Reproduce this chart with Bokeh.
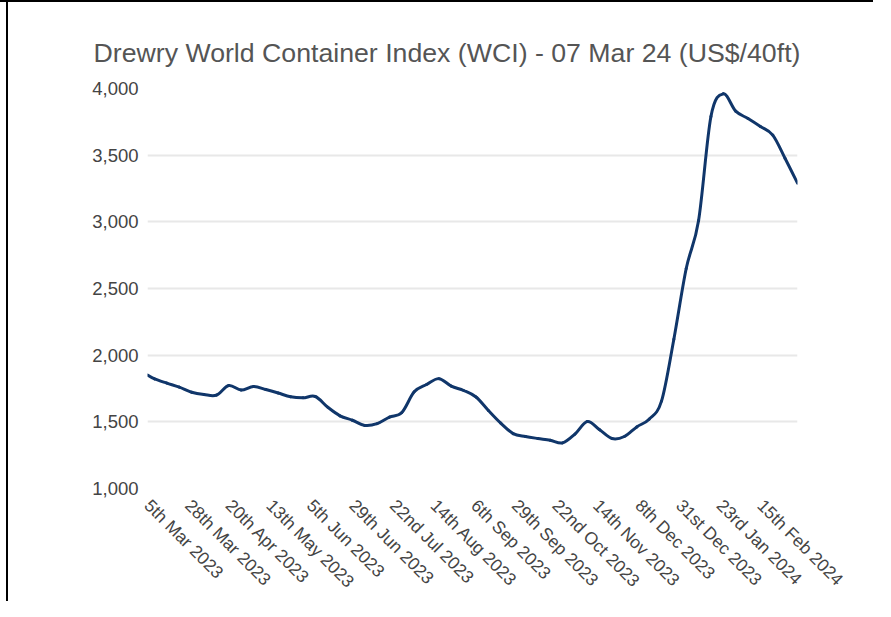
import math
import pandas as pd
from bokeh.plotting import figure
from bokeh.models import Range1d, FixedTicker, NumeralTickFormatter
from bokeh.embed import file_html
from bokeh.resources import INLINE

# ---- data ----
dates = [
    "2023-03-05", "2023-03-09", "2023-03-16", "2023-03-23", "2023-03-30",
    "2023-04-06", "2023-04-13", "2023-04-20", "2023-04-27", "2023-05-04",
    "2023-05-11", "2023-05-18", "2023-05-25", "2023-06-01", "2023-06-08",
    "2023-06-15", "2023-06-22", "2023-06-29", "2023-07-06", "2023-07-13",
    "2023-07-20", "2023-07-27", "2023-08-03", "2023-08-10", "2023-08-17",
    "2023-08-24", "2023-08-31", "2023-09-07", "2023-09-14", "2023-09-21",
    "2023-09-28", "2023-10-05", "2023-10-12", "2023-10-19", "2023-10-26",
    "2023-11-02", "2023-11-09", "2023-11-16", "2023-11-23", "2023-11-30",
    "2023-12-07", "2023-12-14", "2023-12-21", "2023-12-28", "2024-01-04",
    "2024-01-11", "2024-01-18", "2024-01-25", "2024-02-01", "2024-02-08",
    "2024-02-15", "2024-02-22", "2024-02-29", "2024-03-07",
]
wci = [
    1851, 1822, 1790, 1760, 1722,
    1705, 1700, 1772, 1738, 1765,
    1742, 1716, 1688, 1680, 1690,
    1610, 1545, 1512, 1473, 1486,
    1535, 1570, 1725, 1780, 1824,
    1768, 1735, 1686, 1585, 1490,
    1412, 1390, 1375, 1362, 1342,
    1408, 1502, 1440, 1375, 1390,
    1462, 1520, 1655, 2120, 2650,
    3010, 3790, 3960, 3830, 3775,
    3715, 3650, 3475, 3290,
]
tick_dates = [
    "2023-03-05", "2023-03-28", "2023-04-20", "2023-05-13", "2023-06-05",
    "2023-06-29", "2023-07-22", "2023-08-14", "2023-09-06", "2023-09-29",
    "2023-10-22", "2023-11-14", "2023-12-08", "2023-12-31", "2024-01-23",
    "2024-02-15",
]
tick_labels = [
    "5th Mar 2023", "28th Mar 2023", "20th Apr 2023", "13th May 2023",
    "5th Jun 2023", "29th Jun 2023", "22nd Jul 2023", "14th Aug 2023",
    "6th Sep 2023", "29th Sep 2023", "22nd Oct 2023", "14th Nov 2023",
    "8th Dec 2023", "31st Dec 2023", "23rd Jan 2024", "15th Feb 2024",
]
y_ticks = [1000, 1500, 2000, 2500, 3000, 3500, 4000]
title_text = "Drewry World Container Index (WCI) - 07 Mar 24 (US$/40ft)"

def ms(d):
    return pd.Timestamp(d).value / 1e6

xs = [ms(d) for d in dates]
ys = [float(v) for v in wci]
tick_ms = [ms(d) for d in tick_dates]

# smooth curve (Catmull-Rom as cubic Bezier segments)
n = len(xs)
x0, y0, x1, y1, cx0, cy0, cx1, cy1 = [], [], [], [], [], [], [], []
for i in range(n - 1):
    a = i - 1 if i > 0 else i
    b = i + 2 if i + 2 < n else i + 1
    x0.append(xs[i]); y0.append(ys[i])
    x1.append(xs[i + 1]); y1.append(ys[i + 1])
    cx0.append(xs[i] + (xs[i + 1] - xs[a]) / 6.0)
    cy0.append(ys[i] + (ys[i + 1] - ys[a]) / 6.0)
    cx1.append(xs[i + 1] - (xs[b] - xs[i]) / 6.0)
    cy1.append(ys[i + 1] - (ys[b] - ys[i]) / 6.0)

FONT = "Liberation Sans"

p = figure(
    width=873, height=601,
    x_axis_type="datetime",
    x_range=Range1d(ms("2023-03-05"), ms("2024-03-07")),
    y_range=Range1d(1000, 4000),
    output_backend="svg", toolbar_location=None,
    min_border_left=147, min_border_right=76,
    min_border_top=88, min_border_bottom=113,
)
# page frame lines like the screenshot's: drawn as CSS background behind a transparent border area
p.border_fill_color = None
p.background_fill_color = "#ffffff"
p.styles = {
    "background-color": "#ffffff",
    "background-image": "linear-gradient(#000000, #000000), linear-gradient(#000000, #000000)",
    "background-size": "2px 100%, 100% 2px",
    "background-position": "6px 0px, 0px 0px",
    "background-repeat": "no-repeat",
}

p.bezier(x0=x0, y0=y0, x1=x1, y1=y1, cx0=cx0, cy0=cy0, cx1=cx1, cy1=cy1,
         line_color="#10366a", line_width=3, line_cap="round")

p.title.text = title_text
p.title.text_font = FONT
p.title.text_font_size = "26.7px"
p.title.text_font_style = "normal"
p.title.text_color = "#555555"
p.title.align = "left"
p.title.offset = -54
p.title.standoff = 42

p.outline_line_color = None
p.xgrid.grid_line_color = None
p.ygrid.grid_line_color = "#e8e8e8"
p.ygrid.grid_line_width = 2

p.yaxis.ticker = FixedTicker(ticks=y_ticks)
p.yaxis.formatter = NumeralTickFormatter(format="0,0")
p.xaxis.ticker = FixedTicker(ticks=tick_ms)
p.xaxis.major_label_overrides = {t: l for t, l in zip(tick_ms, tick_labels)}
p.xaxis.major_label_orientation = -math.pi / 4

for ax in (p.xaxis[0], p.yaxis[0]):
    ax.axis_line_color = None
    ax.major_tick_line_color = None
    ax.minor_tick_line_color = None
    ax.major_label_text_font = FONT
    ax.major_label_text_color = "#444444"

p.yaxis.major_label_text_font_size = "18.5px"
p.yaxis.major_label_standoff = 3
p.xaxis.major_label_text_font_size = "17.5px"
p.xaxis.major_label_standoff = 8

open("out.html", "w").write(file_html(p, INLINE))
